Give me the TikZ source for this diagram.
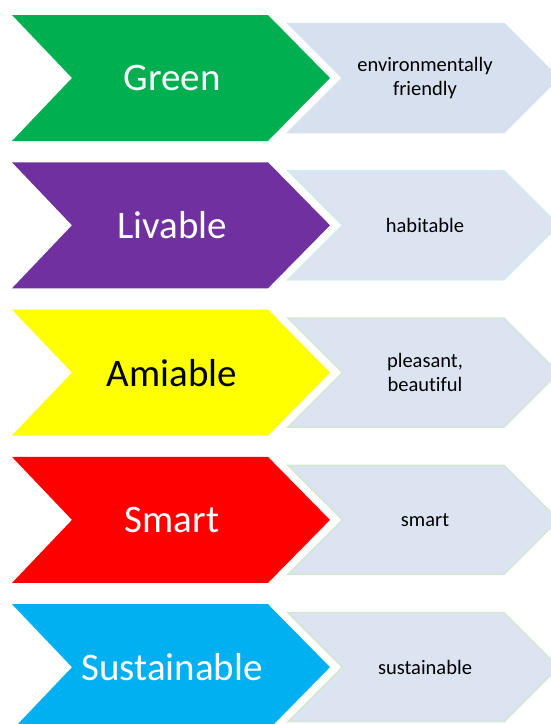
\documentclass[tikz,border=0pt]{standalone}
\usepackage{fontspec}
\setmainfont[Ligatures={NoCommon}]{Carlito}
\definecolor{cgreen}{HTML}{00B050}
\definecolor{cpurple}{HTML}{7030A0}
\definecolor{cyellow}{HTML}{FFFF00}
\definecolor{cred}{HTML}{FF0000}
\definecolor{ccyan}{HTML}{00B0F0}
\definecolor{lightfill}{HTML}{D6E0EE}
\definecolor{lightfillb}{HTML}{DCE3F1}
\definecolor{lineg}{HTML}{D3E7D3}
\definecolor{linec}{HTML}{D3EBEB}
\tikzset{
  bigtext/.style={font=\fontsize{39}{44}\selectfont, inner sep=0pt},
  smalltext/.style={font=\fontsize{20.5}{24}\selectfont, align=center, inner sep=0pt, text=black},
}
\newcommand{\bigchev}[2]{%
  \fill[#1] (12,#2-63) -- (268,#2-63) -- (330,#2) -- (268,#2+63) -- (12,#2+63) -- (72,#2) -- cycle;}
\newcommand{\smallchev}[3]{%
  \filldraw[fill=#1, draw=#2, line width=1.5pt, line join=miter] (288,#3-54.5) -- (504,#3-54.5) -- (558.5,#3) -- (504,#3+54.5) -- (288,#3+54.5) -- (342.5,#3) -- cycle;}
\begin{document}
\begin{tikzpicture}[x=1pt,y=-1pt]
\useasboundingbox (0,0) rectangle (551,724);
\begin{scope}
\clip (0,0) rectangle (551,724);
% Row 1
\bigchev{cgreen}{78}
\smallchev{lightfill}{lightfill}{78}
\node[bigtext, text=white] (g) at (172,78) {Green};
\node[smalltext] (gd) at (425,78) {environmentally\\friendly};
% Row 2
\bigchev{cpurple}{225.3}
\smallchev{lightfillb}{linec}{225.3}
\node[bigtext, text=white] (l) at (172,225.3) {Livable};
\node[smalltext] (ld) at (425,225.3) {habitable};
% Row 3
\bigchev{cyellow}{372.6}
\smallchev{lightfillb}{lineg}{372.6}
\node[bigtext, text=black] (a) at (172,372.6) {Amiable};
\node[smalltext] (ad) at (425,372.6) {pleasant,\\beautiful};
% Row 4
\bigchev{cred}{519.9}
\smallchev{lightfillb}{lineg}{519.9}
\node[bigtext, text=white] (s) at (172,519.9) {Smart};
\node[smalltext] (sd) at (425,519.9) {smart};
% Row 5
\bigchev{ccyan}{667.2}
\smallchev{lightfillb}{lineg}{667.2}
\node[bigtext, text=white] (su) at (172,667.2) {Sustainable};
\node[smalltext] (sud) at (425,667.2) {sustainable};
\end{scope}
\end{tikzpicture}
\end{document}
